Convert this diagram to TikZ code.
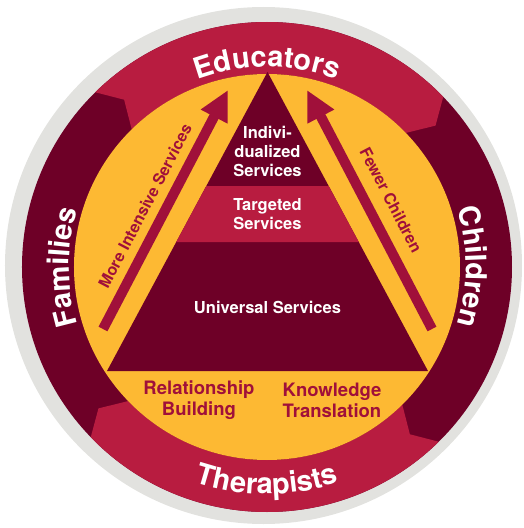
\documentclass[tikz,border=0pt]{standalone}
\usepackage{fontspec}
\setmainfont{TeX Gyre Heros}
\usetikzlibrary{arrows.meta,decorations.text}
\definecolor{ringgrey}{HTML}{E2E2DF}
\definecolor{crim}{HTML}{B81C40}
\definecolor{darkm}{HTML}{6E0027}
\definecolor{gold}{HTML}{FDB933}
\definecolor{arrowc}{HTML}{A0103A}
\newcommand\ringf{\fontsize{29}{34}\selectfont\bfseries}
\begin{document}
\begin{tikzpicture}[x=1pt,y=1pt,
  pyrtext/.style={text=white,font=\fontsize{16.5}{19}\selectfont\bfseries,align=center,inner sep=0pt},
  bottext/.style={text=arrowc,font=\fontsize{18.5}{21}\selectfont\bfseries,align=center,inner sep=0pt},
  arrtext/.style={text=arrowc,font=\fontsize{16}{19}\selectfont\bfseries,inner sep=0pt},
  bigarrow/.style={draw=arrowc,line width=10pt,-{Triangle[length=30pt,width=28pt,fill=arrowc]}},
  ringtext/.style={decorate,decoration={text along path,text align=center,text color=white,text={|\ringf|#1}}}
]
\useasboundingbox (-267,-261) rectangle (256,267);
% outer rings
\fill[ringgrey] (-3.5,1.5) circle[radius=258.5];
\fill[darkm] (0,0) circle[radius=245];
\fill[crim] (134.5:245) arc[start angle=134.5,end angle=44,radius=245] -- (40:220) -- (44:193)
  arc[start angle=44,end angle=134.5,radius=193] -- (130.5:220) -- cycle;
\fill[crim] (-45.5:245) arc[start angle=-45.5,end angle=-136,radius=245] -- (-140:220) -- (-136:193)
  arc[start angle=-136,end angle=-45.5,radius=193] -- (-49.5:220) -- cycle;
\fill[gold] (0,0) circle[radius=193];
% ring labels
\path[ringtext=Educators] (160:200) arc[start angle=160,end angle=20,radius=200];
\path[ringtext=Therapists] (200:227) arc[start angle=200,end angle=340,radius=227];
\path[ringtext=Families] (230:198) arc[start angle=230,end angle=130,radius=198];
\path[ringtext=Children] (50:199) arc[start angle=50,end angle=-50,radius=199];
% pyramid
\coordinate (apex) at (0.5,195);
\coordinate (bl) at (-160,-104);
\coordinate (br) at (161,-104);
\fill[darkm] (apex) -- (bl) -- (br) -- cycle;
\fill[crim] (-60.69,81) -- (61.69,81) -- (91.75,25) -- (-90.75,25) -- cycle;
\node[pyrtext] (indiv) at (0.5,116) {Indivi-\\dualized\\Services};
\node[pyrtext] (targ) at (0.5,52.5) {Targeted\\Services};
\node[pyrtext] (univ) at (0.5,-40) {Universal Services};
\node[bottext] (rel) at (-68,-133.5) {Relationship\\Building};
\node[bottext] (know) at (65,-133.5) {Knowledge\\Translation};
% arrows
\coordinate (la0) at (-164,-62);
\coordinate (la1) at (-39,177);
\coordinate (ra0) at (165,-62);
\coordinate (ra1) at (40,177);
\draw[bigarrow] (la0) -- (la1);
\draw[bigarrow] (ra0) -- (ra1);
\node[arrtext,rotate=62.4] (more) at (-122,61) {More Intensive Services};
\node[arrtext,rotate=-62.4] (fewer) at (124,67) {Fewer Children};
\end{tikzpicture}
\end{document}
